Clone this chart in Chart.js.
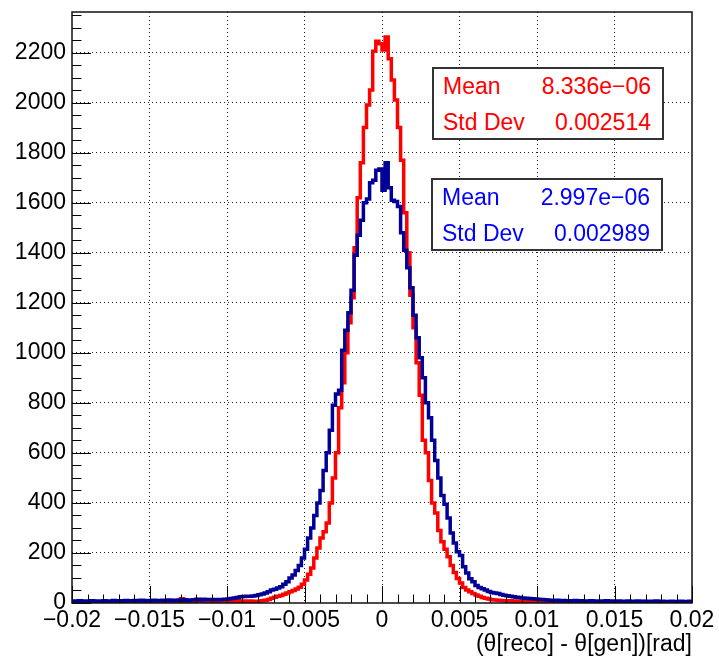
<!DOCTYPE html>
<html>
<head>
<meta charset="utf-8">
<script src="https://cdn.jsdelivr.net/npm/chart.js@4.4.1/dist/chart.umd.min.js"></script>
<style>
  html, body { margin: 0; padding: 0; background: #fff; }
  #wrap { position: relative; width: 719px; height: 658px; overflow: hidden; }
  #c { position: absolute; left: 0; top: 0; }
  .stat { position: absolute; width: 228px; height: 69px; border: 2px solid #333; background: #fff;
          font-family: "Liberation Sans", Arial, Helvetica, sans-serif; font-size: 23px; }
  .row { position: absolute; left: 9px; right: 11px; height: 26px; line-height: 26px; }
  .row .v { position: absolute; right: 0; top: 0; }
  .row .l { position: absolute; left: 0; top: 0; }
</style>
</head>
<body>
<div id="wrap">
  <canvas id="c" width="719" height="658"></canvas>
  <div class="stat" id="statRed" style="left:432px; top:67px; color:#ff0000;"></div>
  <div class="stat" id="statBlue" style="left:431px; top:178px; color:#0000ff;"></div>
</div>
<script>
// ---- histogram binning ----
const xMin = -0.02;
const xMax = 0.02;
const nBins = 200;

// ---- red histogram (bins from -0.02 to 0.02, width 0.0002) ----
const redCounts = [
  4,3,5,3,4,2,5,4,3,4,
  3,5,4,3,6,4,3,5,4,3,
  5,4,6,3,5,4,6,5,4,5,
  6,4,5,7,5,17,6,5,7,6,
  15,8,6,7,9,7,8,6,9,8,
  7,8,6,9,7,8,6,8,7,6,
  7,9,11,14,19,23,27,30,35,40,
  45,50,56,63,75,92,115,140,180,220,
  260,285,320,400,500,600,780,880,1000,1120,
  1220,1420,1620,1760,1900,1990,2050,2205,2245,2235,
  2210,2262,2175,2090,2010,1900,1770,1560,1400,1230,
  1100,960,830,650,600,490,400,360,290,245,
  215,185,150,122,98,80,62,52,45,38,
  32,27,22,19,16,13,12,11,10,9,
  8,9,7,8,6,7,8,6,5,7,
  6,5,7,5,6,4,6,5,4,6,
  5,4,6,5,3,5,4,6,4,5,
  3,5,4,6,4,3,5,4,3,5,
  4,3,5,4,6,3,4,5,3,4,
  5,3,4,4,3,5,4,3,5,4
];

// ---- blue histogram ----
const blueCounts = [
  8,7,9,6,8,7,9,8,6,8,
  9,7,8,10,8,9,7,10,9,8,
  10,9,11,8,10,9,11,10,9,11,
  10,12,11,10,12,11,13,10,12,13,
  14,12,15,13,14,13,14,13,14,15,
  16,18,20,22,25,26,27,27,28,30,
  33,36,40,45,52,55,60,65,75,85,
  100,112,130,150,180,215,260,300,350,400,
  450,530,600,690,790,835,850,1010,1090,1160,
  1250,1390,1470,1530,1600,1615,1680,1690,1730,1735,
  1650,1760,1660,1610,1605,1585,1480,1410,1340,1260,
  1150,1060,980,900,800,740,650,570,500,430,
  395,340,280,240,205,190,145,120,97,85,
  70,62,57,52,46,42,40,38,34,31,
  29,27,25,23,22,20,19,18,17,16,
  15,14,13,12,11,10,11,9,10,8,
  9,8,10,7,9,8,7,9,8,7,
  8,7,9,6,8,7,8,6,7,8,
  6,7,8,6,7,5,7,6,8,6,
  7,5,6,7,5,6,7,5,6,7
];

// ---- axes ----
const yMin = 0;
const yMax = 2362;
const xTickValues = [-0.02, -0.015, -0.01, -0.005, 0, 0.005, 0.01, 0.015, 0.02];
const yTickValues = [0, 200, 400, 600, 800, 1000, 1200, 1400, 1600, 1800, 2000, 2200];
const xMinorStep = 0.001;
const yMinorStep = 50;
const xTitle = "(\u03B8[reco] - \u03B8[gen])[rad]";

// ---- stat boxes ----
const statLabels = ["Mean", "Std Dev"];
const redStats = ["8.336e\u221206", "0.002514"];
const blueStats = ["2.997e\u221206", "0.002989"];

const FONT = '"Liberation Sans", Arial, Helvetica, sans-serif';

function toSteps(counts) {
  const w = (xMax - xMin) / nBins;
  const pts = counts.map((c, i) => ({ x: xMin + i * w, y: c }));
  pts.push({ x: xMax, y: counts[counts.length - 1] });
  return pts;
}

function fmtX(v) {
  const r = Math.round(v * 1000) / 1000;
  if (Math.abs(r) < 1e-9) return "0";
  return String(r).replace("-", "\u2212");
}

function isMajor(v, list, eps) {
  return list.some(t => Math.abs(t - v) < eps);
}

const rootAxes = {
  id: 'rootAxes',
  afterDatasetsDraw(chart) {
    const { ctx, chartArea: a, scales: { x, y } } = chart;
    ctx.save();
    ctx.strokeStyle = '#000';
    ctx.lineWidth = 1;
    ctx.setLineDash([]);
    ctx.beginPath();
    const nx = Math.round((xMax - xMin) / xMinorStep);
    for (let k = 0; k <= nx; k++) {
      const v = xMin + k * xMinorStep;
      const px = Math.round(x.getPixelForValue(v)) + 0.5;
      const len = isMajor(v, xTickValues, 1e-7) ? 17 : 8.5;
      ctx.moveTo(px, a.bottom);
      ctx.lineTo(px, a.bottom - len);
    }
    for (let v = yMin; v <= yMax; v += yMinorStep) {
      const py = Math.round(y.getPixelForValue(v)) + 0.5;
      const len = isMajor(v, yTickValues, 1e-6) ? 19 : 9.5;
      ctx.moveTo(a.left, py);
      ctx.lineTo(a.left + len, py);
    }
    ctx.stroke();
    ctx.lineWidth = 1.5;
    ctx.strokeStyle = '#111';
    ctx.strokeRect(a.left, a.top, a.right - a.left, a.bottom - a.top);
    ctx.restore();
  }
};

const whiteBg = {
  id: 'whiteBg',
  beforeDraw(chart) {
    const ctx = chart.ctx;
    ctx.save();
    ctx.fillStyle = '#fff';
    ctx.fillRect(0, 0, chart.width, chart.height);
    ctx.restore();
  }
};

new Chart(document.getElementById('c'), {
  type: 'line',
  data: {
    datasets: [
      {
        label: 'blue',
        data: toSteps(blueCounts),
        borderColor: '#000099',
        borderWidth: 3.5,
        stepped: true,
        pointRadius: 0,
        fill: false,
        order: 0
      },
      {
        label: 'red',
        data: toSteps(redCounts),
        borderColor: '#ff0000',
        borderWidth: 3.5,
        stepped: true,
        pointRadius: 0,
        fill: false,
        order: 1
      }
    ]
  },
  options: {
    responsive: false,
    animation: false,
    devicePixelRatio: 1,
    layout: { padding: { left: 0, right: 27, top: 12, bottom: 0 } },
    plugins: { legend: { display: false }, tooltip: { enabled: false }, title: { display: false } },
    scales: {
      x: {
        type: 'linear',
        min: xMin,
        max: xMax,
        afterBuildTicks: s => { s.ticks = xTickValues.map(v => ({ value: v })); },
        afterFit: s => { s.height = 55; s.paddingLeft = 0; s.paddingRight = 0; },
        ticks: {
          autoSkip: false,
          maxRotation: 0,
          padding: 4,
          color: '#000',
          font: { family: FONT, size: 23 },
          callback: v => fmtX(v)
        },
        grid: {
          drawTicks: false,
          lineWidth: 1,
          color: c => (c.tick && (Math.abs(c.tick.value - xMin) < 1e-9 || Math.abs(c.tick.value - xMax) < 1e-9)) ? 'rgba(0,0,0,0)' : '#222'
        },
        border: { display: false, dash: [1, 3] },
        title: {
          display: true,
          text: xTitle,
          align: 'end',
          color: '#000',
          font: { family: FONT, size: 23 },
          padding: { top: 0, bottom: 0 }
        }
      },
      y: {
        min: yMin,
        max: yMax,
        afterBuildTicks: s => { s.ticks = yTickValues.map(v => ({ value: v })); },
        afterFit: s => { s.width = 72; s.paddingTop = 0; s.paddingBottom = 0; },
        ticks: {
          autoSkip: false,
          padding: 6,
          color: '#000',
          font: { family: FONT, size: 23 },
          callback: v => String(v)
        },
        grid: {
          drawTicks: false,
          lineWidth: 1,
          color: c => (c.tick && c.tick.value === yMin) ? 'rgba(0,0,0,0)' : '#222'
        },
        border: { display: false, dash: [1, 3] }
      }
    }
  },
  plugins: [whiteBg, rootAxes]
});

function fillStat(id, values) {
  const el = document.getElementById(id);
  statLabels.forEach((lab, i) => {
    const row = document.createElement('div');
    row.className = 'row';
    row.style.top = (i === 0 ? 4 : 40) + 'px';
    const l = document.createElement('span'); l.className = 'l'; l.textContent = lab;
    const v = document.createElement('span'); v.className = 'v'; v.textContent = values[i];
    row.appendChild(l); row.appendChild(v);
    el.appendChild(row);
  });
}
fillStat('statRed', redStats);
fillStat('statBlue', blueStats);
</script>
</body>
</html>
